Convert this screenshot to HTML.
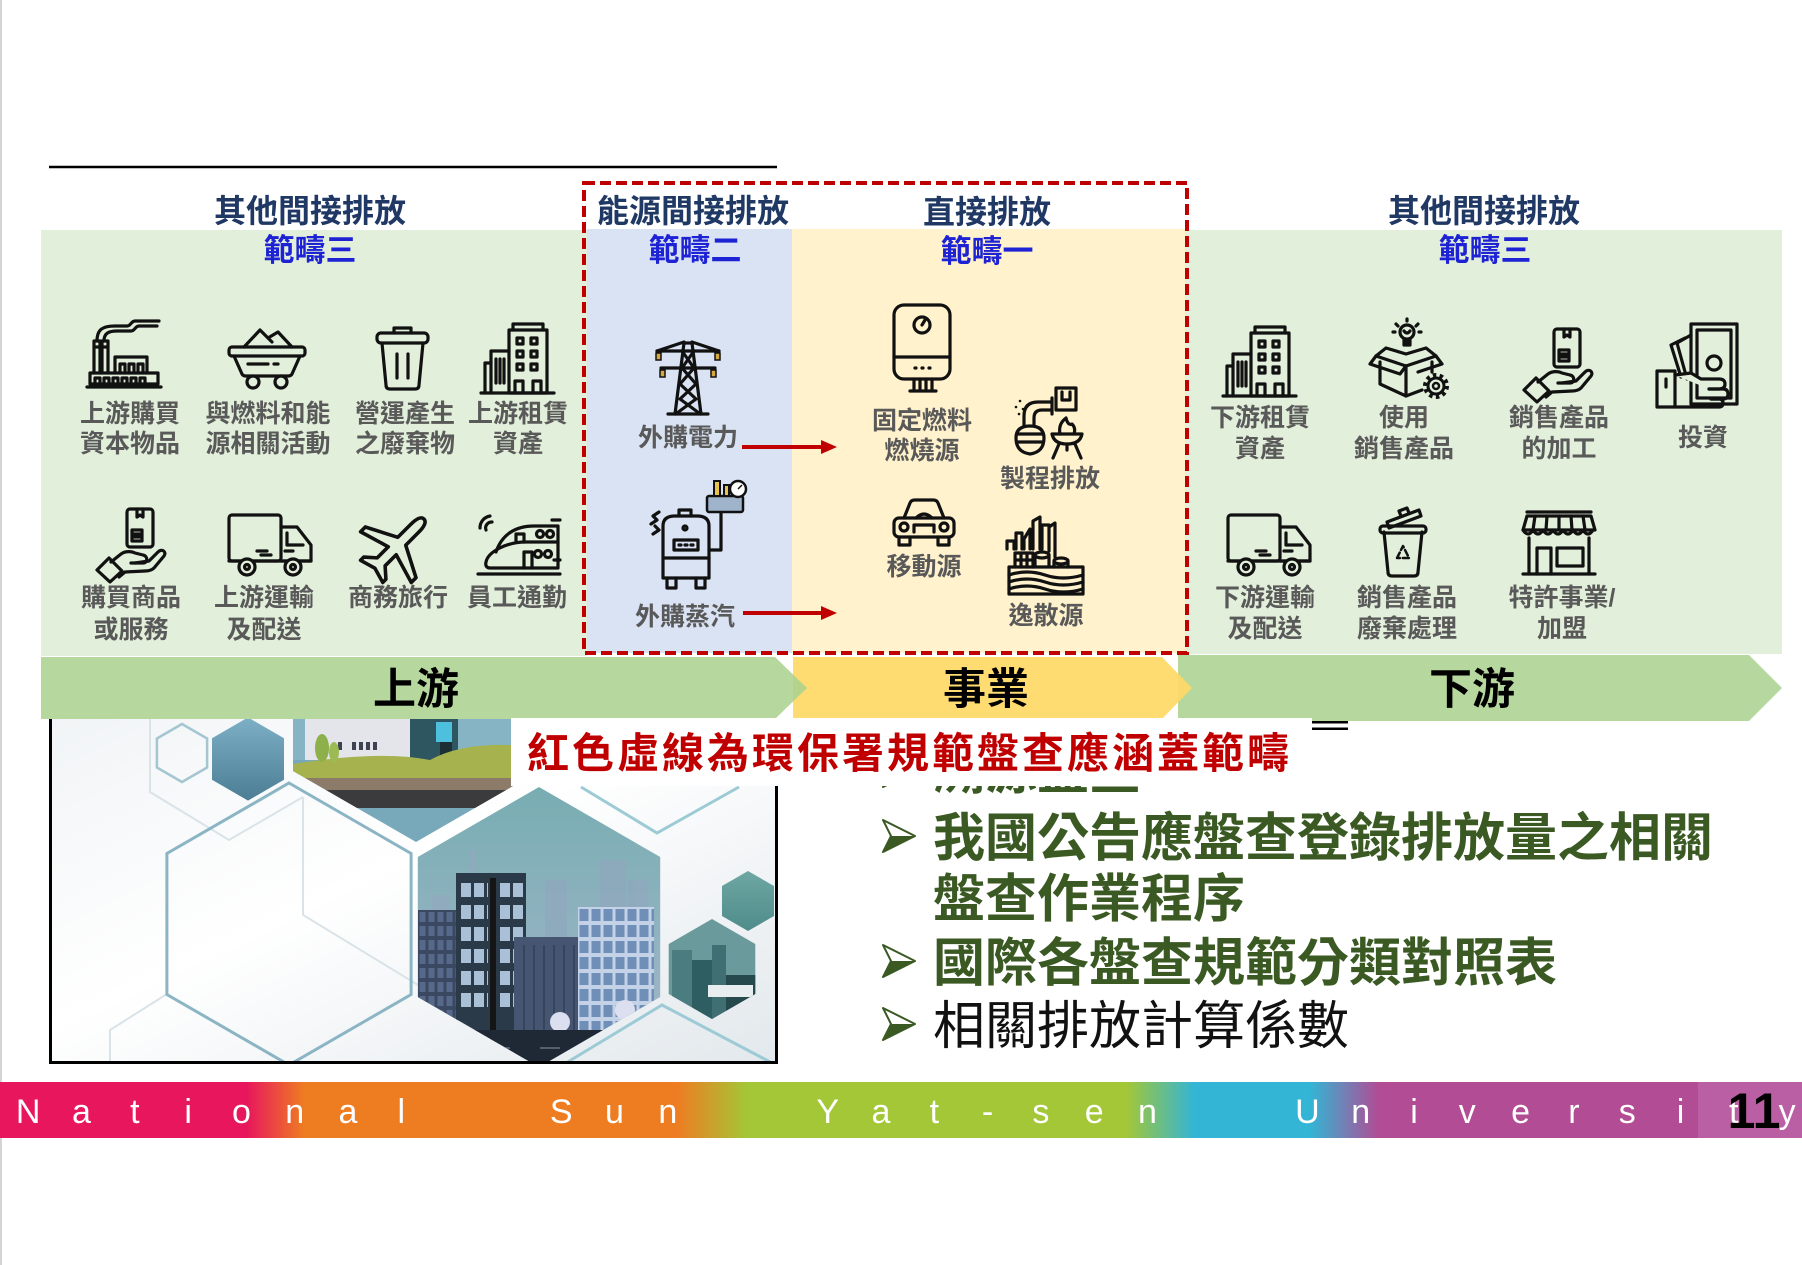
<!DOCTYPE html>
<html><head><meta charset="utf-8">
<style>
html,body{margin:0;padding:0;background:#fff;}
svg{display:block;}
.t{font-family:"Liberation Sans","Noto Sans CJK TC","Noto Sans CJK SC",sans-serif;}
.ic{fill:none;stroke:#111;stroke-width:3.2;stroke-linejoin:round;stroke-linecap:round;}
.lb{font-size:25px;font-weight:bold;fill:#595959;text-anchor:middle;}
.h1{font-size:32px;font-weight:bold;fill:#1f3864;text-anchor:middle;}
.h2{font-size:31px;font-weight:bold;fill:#1d22d4;text-anchor:middle;}
.bar{font-size:43px;font-weight:bold;fill:#000;text-anchor:middle;}
.bl{font-size:52px;font-weight:bold;fill:#3b5a23;}
.bn{font-size:52px;fill:#111;}
.ft{font-size:34px;fill:#fff;text-anchor:middle;font-family:"Liberation Sans",sans-serif;}
</style></head><body>
<svg class="t" width="1802" height="1265" viewBox="0 0 1802 1265" xmlns="http://www.w3.org/2000/svg">
<defs>
  <g id="bldg" class="ic">
    <path d="M0 70 H73"/>
    <rect x="28" y="7" width="38" height="63"/>
    <path d="M32 7 V1 H62 V7"/>
    <rect x="36" y="15" width="6" height="6"/><rect x="50" y="15" width="6" height="6"/>
    <rect x="36" y="28" width="6" height="6"/><rect x="50" y="28" width="6" height="6"/>
    <rect x="36" y="41" width="6" height="6"/><rect x="50" y="41" width="6" height="6"/>
    <path d="M10 70 V28 H28"/>
    <path d="M4 70 V40 H10"/>
    <path d="M15 36 V60 M19 36 V60 M23 36 V60"/>
    <path d="M34 70 V58 H42 V70 M52 70 V58 H60 V70"/>
  </g>
  <g id="handbox" class="ic">
    <rect x="32" y="1" width="26" height="38" rx="3"/>
    <path d="M42 1 V9 L45 7 L48 9 V1"/>
    <rect x="37" y="22" width="10" height="11"/>
    <path d="M39 26 H45 M39 29 H45"/>
    <path d="M16 54 L26 46 C30 43 36 43 40 45 L48 47 C53 48 53 55 48 55 L36 55"/>
    <path d="M40 55 L54 53 L63 44 C67 40 72 44 69 48 L59 60 C57 62 54 63 50 63 L30 64 L24 69"/>
    <path d="M2 62 L14 50 L27 63 L15 74 Z"/>
  </g>
  <g id="truck" class="ic">
    <rect x="2" y="2" width="52" height="46" rx="3"/>
    <path d="M54 14 H70 L84 32 V48 H54"/>
    <path d="M60 20 V32 H76"/>
    <path d="M2 48 H84"/>
    <path d="M58 38 H66 M30 38 H40 M34 42 H44"/>
    <circle cx="20" cy="54" r="8" fill="#e2efda"/><circle cx="20" cy="54" r="2.5"/>
    <circle cx="66" cy="54" r="8" fill="#e2efda"/><circle cx="66" cy="54" r="2.5"/>
  </g>
  <g id="arw">
    <path d="M0 0 L32 16 L0 32 L8 16 Z" fill="#ffffff" stroke="#3b5a23" stroke-width="2" stroke-linejoin="round"/>
    <path d="M8 16 L32 16 L0 32 Z" fill="#3b5a23"/>
  </g>
  <linearGradient id="ibg" x1="0" y1="0" x2="1" y2="1">
    <stop offset="0" stop-color="#f1f4f6"/><stop offset="0.45" stop-color="#ffffff"/><stop offset="1" stop-color="#e2e8ec"/>
  </linearGradient>
  <clipPath id="cimg"><rect x="50" y="719" width="727" height="343"/></clipPath>
  <clipPath id="cbig"><polygon points="539,787 660.2,857 660.2,997 539,1067 417.8,997 417.8,857"/></clipPath>
  <clipPath id="ctop"><polygon points="416,558 539,629 539,771 416,842 293,771 293,629"/></clipPath>
  <clipPath id="csm"><polygon points="712,919 755.3,944 755.3,994 712,1019 668.7,994 668.7,944"/></clipPath>
  <linearGradient id="sky" x1="0" y1="0" x2="0" y2="1">
    <stop offset="0" stop-color="#78adb2"/><stop offset="1" stop-color="#a6b7cd"/>
  </linearGradient>
  <linearGradient id="teal" x1="0" y1="0" x2="0" y2="1">
    <stop offset="0" stop-color="#7db0c6"/><stop offset="1" stop-color="#4b7d94"/>
  </linearGradient>
  <linearGradient id="teal2" x1="0" y1="0" x2="0" y2="1">
    <stop offset="0" stop-color="#6ea7a4"/><stop offset="1" stop-color="#4f8c8a"/>
  </linearGradient>
  <pattern id="winA" width="13" height="22" patternUnits="userSpaceOnUse" x="460" y="880">
    <rect x="1" y="3" width="10" height="14" fill="#a9c0d6"/>
  </pattern>
  <pattern id="gridB" width="12" height="16" patternUnits="userSpaceOnUse" x="578" y="907">
    <rect x="1.5" y="2" width="9" height="12" fill="#6f8fb8"/>
  </pattern>
  <pattern id="gridC" width="9" height="14" patternUnits="userSpaceOnUse" x="418" y="910">
    <rect x="1.5" y="2" width="6" height="10" fill="#56698a"/>
  </pattern>
  <linearGradient id="rb" x1="0" y1="0" x2="1802" y2="0" gradientUnits="userSpaceOnUse">
    <stop offset="0.137" stop-color="#e8175d"/><stop offset="0.169" stop-color="#ee7d22"/>
    <stop offset="0.376" stop-color="#ee7d22"/><stop offset="0.415" stop-color="#a3c737"/>
    <stop offset="0.625" stop-color="#a3c737"/><stop offset="0.663" stop-color="#33b5d5"/>
    <stop offset="0.727" stop-color="#33b5d5"/><stop offset="0.765" stop-color="#b14c95"/>
  </linearGradient>
</defs>

<rect x="0" y="0" width="1802" height="1265" fill="#ffffff"/>
<rect x="0" y="0" width="2" height="1265" fill="#d4d4d4"/>

<line x1="49" y1="167" x2="777" y2="167" stroke="#000" stroke-width="2.5"/>

<rect x="41" y="230" width="546" height="426" fill="#e2efda"/>
<rect x="1185" y="230" width="597" height="424" fill="#e2efda"/>
<rect x="587" y="229" width="205" height="424" fill="#dae3f3"/>
<rect x="792" y="229" width="393" height="424" fill="#fff2cc"/>

<text class="h1" x="310" y="222">其他間接排放</text>
<text class="h2" x="310" y="261">範疇三</text>
<text class="h1" x="693" y="222">能源間接排放</text>
<text class="h2" x="695" y="261">範疇二</text>
<text class="h1" x="987" y="223">直接排放</text>
<text class="h2" x="987" y="262">範疇一</text>
<text class="h1" x="1484" y="222">其他間接排放</text>
<text class="h2" x="1485" y="261">範疇三</text>

<g class="ic" transform="translate(87,317)">
  <path d="M10 24 C10 12 16 9 28 9 H40 C44 9 44 4 48 4 H72"/>
  <path d="M17 24 C17 16 22 14 30 14 H44 C48 14 48 9 52 9 H70"/>
  <path d="M7 56 V24 H13 V56 M15 56 V24 H21 V56"/>
  <path d="M8 30 H12 M16 30 H20"/>
  <path d="M28 56 V40 H60 V56"/>
  <path d="M33 56 V47 H38 V56 M42 56 V47 H47 V56 M51 56 V47 H56 V56"/>
  <rect x="3" y="56" width="68" height="11"/>
  <path d="M8 67 V61 H13 V67 M17 67 V61 H22 V67 M26 67 V61 H31 V67 M35 67 V61 H40 V67 M44 67 V61 H49 V67 M53 67 V61 H58 V67"/>
  <path d="M0 70 H74"/>
</g>
<g class="ic" transform="translate(228,328)">
  <path d="M16 19 L32 2 L44 14"/>
  <path d="M40 10 L50 4 L64 19"/>
  <rect x="1" y="19" width="76" height="9" rx="3"/>
  <path d="M6 28 L14 46 Q15 48 18 48 H60 Q63 48 64 46 L72 28"/>
  <path d="M20 36 H40 M46 36 H50"/>
  <circle cx="25" cy="54" r="6" fill="#e2efda"/><circle cx="53" cy="54" r="6" fill="#e2efda"/>
</g>
<g class="ic" transform="translate(375,326)">
  <path d="M19 7 V2 H36 V7"/>
  <rect x="2" y="7" width="51" height="10" rx="4"/>
  <path d="M7 17 L11 59 Q11 63 15 63 H40 Q44 63 44 59 L48 17"/>
  <path d="M22 28 V52 M33 28 V52"/>
</g>
<use href="#bldg" x="481" y="323"/>

<text class="lb" x="130" y="422">上游購買</text>
<text class="lb" x="130" y="452">資本物品</text>
<text class="lb" x="268" y="422">與燃料和能</text>
<text class="lb" x="268" y="452">源相關活動</text>
<text class="lb" x="405" y="422">營運產生</text>
<text class="lb" x="405" y="452">之廢棄物</text>
<text class="lb" x="518" y="422">上游租賃</text>
<text class="lb" x="518" y="452">資產</text>

<use href="#handbox" x="95" y="508"/>
<use href="#truck" x="227" y="513"/>
<g class="ic" transform="translate(397,546) rotate(45) scale(1.12)">
  <path d="M0 -34 C4 -34 5 -28 5 -22 L5 -6 L32 8 L32 14 L5 6 L5 20 L14 28 L14 32 L0 28 L-14 32 L-14 28 L-5 20 L-5 6 L-32 14 L-32 8 L-5 -6 L-5 -22 C-5 -28 -4 -34 0 -34 Z"/>
</g>
<g class="ic" transform="translate(476,512)">
  <path d="M2 62 H84"/>
  <path d="M14 56 H82 V30 H50 C30 30 12 40 10 50 C9 54 11 56 14 56 Z"/>
  <path d="M20 40 C26 22 40 14 58 14 H82 V30"/>
  <circle cx="64" cy="22" r="3.5"/><circle cx="74" cy="22" r="3.5"/>
  <circle cx="62" cy="42" r="3.5"/><circle cx="72" cy="42" r="3.5"/>
  <path d="M48 56 V40 H56 V56"/>
  <path d="M40 30 V22 H48 V30"/>
  <path d="M76 8 H84 M78 48 H84"/>
  <path d="M4 16 A12 12 0 0 1 14 4 M10 18 A6 6 0 0 1 16 10"/>
</g>

<text class="lb" x="131" y="606">購買商品</text>
<text class="lb" x="131" y="638">或服務</text>
<text class="lb" x="264" y="606">上游運輸</text>
<text class="lb" x="264" y="638">及配送</text>
<text class="lb" x="398" y="606">商務旅行</text>
<text class="lb" x="517" y="606">員工通勤</text>

<g class="ic" transform="translate(655,337)">
  <path d="M20 77 L29 6 H37 L46 77"/>
  <path d="M13 77 H53"/>
  <path d="M2 14 H64 M6 31 H60"/>
  <path d="M2 14 L29 5 M64 14 L37 5"/>
  <path d="M27 14 L39 31 L25 47 L41 62 L22 76 M39 14 L27 31 L41 47 L25 62 L44 76"/>
</g>
<g fill="#d6a840" stroke="#111" stroke-width="1.5">
  <rect x="656" y="353" width="5" height="7"/><rect x="715" y="353" width="5" height="7"/>
  <rect x="660" y="370" width="5" height="7"/><rect x="711" y="370" width="5" height="7"/>
</g>
<text class="lb" x="688" y="446">外購電力</text>
<path d="M742 447 H824" stroke="#c00000" stroke-width="4"/>
<polygon points="821,440 837,447 821,454" fill="#c00000"/>

<g class="ic" transform="translate(649,480)">
  <path d="M14 46 Q14 36 26 36 H48 Q60 36 60 46 V98 H14 Z"/>
  <path d="M30 36 V30 H42 V36"/>
  <rect x="25" y="60" width="24" height="10"/>
  <path d="M30 65 h2 M36 65 h2 M42 65 h2"/>
  <path d="M14 78 H60"/>
  <path d="M18 98 V108 H27 V98 M47 98 V108 H56 V98"/>
  <path d="M2 44 L8 40 L4 36 L10 32 M4 54 L10 50 L6 46"/>
  <path d="M60 70 H72 V32"/>
  <circle cx="36" cy="48" r="2"/>
</g>
<rect x="707" y="496" width="36" height="16" rx="2" fill="#9fb3cb" stroke="#111" stroke-width="2.5"/>
<rect x="714" y="481" width="6" height="15" fill="#e8c44a" stroke="#111" stroke-width="2"/>
<rect x="724" y="485" width="5" height="11" fill="#e8c44a" stroke="#111" stroke-width="2"/>
<circle cx="738" cy="489" r="8" fill="#fff" stroke="#111" stroke-width="2.5"/>
<path d="M738 489 L742 485" stroke="#111" stroke-width="1.5"/>
<text class="lb" x="685" y="625">外購蒸汽</text>
<path d="M743 613 H824" stroke="#c00000" stroke-width="4"/>
<polygon points="821,606 837,613 821,620" fill="#c00000"/>

<g class="ic" transform="translate(892,303)">
  <rect x="2" y="2" width="56" height="74" rx="10"/>
  <path d="M2 54 H58"/>
  <circle cx="30" cy="22" r="8"/><path d="M30 22 L33 17"/>
  <path d="M23 65 h1 M30 65 h1 M37 65 h1"/>
  <path d="M22 76 V88 M28 76 V88 M34 76 V88 M40 76 V88 M18 88 H44"/>
</g>
<text class="lb" x="922" y="429">固定燃料</text>
<text class="lb" x="922" y="459">燃燒源</text>

<g class="ic" transform="translate(1012,388)">
  <path d="M4 50 Q4 38 18 38 Q32 38 32 50 Q32 64 18 66 Q4 64 4 50 Z"/>
  <path d="M5 46 H31 M5 54 H31"/>
  <path d="M12 38 V28 Q12 14 26 14 H40"/>
  <path d="M22 38 V30 Q22 22 30 22 H40"/>
  <path d="M40 10 V26"/>
  <rect x="44" y="0" width="20" height="22"/>
  <path d="M50 4 V12 H58 V4"/>
  <path d="M40 46 H70 Q68 56 55 56 Q42 56 40 46 Z"/>
  <path d="M47 56 L41 70 M63 56 L69 70 M55 56 V62"/>
  <path d="M48 46 Q46 36 54 30 Q56 38 60 36 Q64 40 62 46"/>
</g>
<g fill="#111"><circle cx="1020" cy="401" r="1.3"/><circle cx="1016" cy="407" r="1.3"/><circle cx="1023" cy="409" r="1.3"/><circle cx="1019" cy="414" r="1.3"/></g>
<text class="lb" x="1050" y="487">製程排放</text>

<g class="ic" transform="translate(892,498)">
  <path d="M12 20 L18 5 Q19 2 23 2 H41 Q45 2 46 5 L52 20"/>
  <path d="M24 20 Q32 12 40 20"/>
  <rect x="2" y="20" width="60" height="19" rx="5"/>
  <circle cx="12" cy="29" r="4"/><circle cx="52" cy="29" r="4"/>
  <path d="M22 34 V27 H42 V34"/>
  <path d="M7 39 V47 H18 V39 M46 39 V47 H57 V39"/>
</g>
<text class="lb" x="924" y="575">移動源</text>

<g class="ic" transform="translate(1005,515)">
  <path d="M2 34 V26 H9 V34 M11 34 V18 H17 V34 M19 34 V24 L25 14 V34 M28 34 V6 L35 2 V34 M37 34 V10 H44 V36 M44 12 L50 8 V42"/>
  <path d="M10 52 V38 H28 V52 M10 45 H28 M16 38 V52 M22 38 V52"/>
  <ellipse cx="37" cy="40" rx="7" ry="3"/><path d="M30 40 V50 M44 40 V50"/>
  <ellipse cx="56" cy="46" rx="7" ry="3"/><path d="M49 46 V52 M63 46 V52"/>
  <rect x="4" y="52" width="74" height="27"/>
  <path d="M4 60 Q22 54 40 60 T78 60 M4 67 Q22 61 40 67 T78 67 M4 74 Q22 68 40 74 T78 74"/>
</g>
<text class="lb" x="1046" y="624">逸散源</text>

<use href="#bldg" x="1223" y="326"/>
<g class="ic" transform="translate(1370,318)">
  <circle cx="37" cy="14" r="7"/>
  <path d="M34 21 V27 H40 V21 M34 24 H40"/>
  <path d="M37 1 V3 M26 6 L28 8 M48 6 L46 8 M23 14 H25 M49 14 H51"/>
  <path d="M34 13 Q37 17 40 13"/>
  <path d="M6 38 L36 48 L66 38"/>
  <path d="M6 38 L16 30 L36 36 L56 30 L66 38"/>
  <path d="M6 38 L0 46 L30 56 L36 48 M66 38 L72 46 L48 54"/>
  <path d="M10 44 V66 L36 78 L52 72 M62 44 V54"/>
  <path d="M36 48 V78"/>
</g>
<circle cx="1436" cy="386" r="11" fill="none" stroke="#111" stroke-width="4" stroke-dasharray="3.5 3.4"/>
<circle cx="1436" cy="386" r="8" fill="#e2efda" stroke="#111" stroke-width="3"/>
<circle cx="1436" cy="386" r="3" fill="none" stroke="#111" stroke-width="2.5"/>
<use href="#handbox" x="1522" y="328"/>
<g class="ic" transform="translate(1655,323)">
  <rect x="36" y="1" width="46" height="80"/>
  <rect x="42" y="7" width="34" height="68"/>
  <path d="M36 12 L22 20 L32 56"/>
  <path d="M30 15 L16 22 L26 54"/>
  <circle cx="59" cy="40" r="7"/>
  <rect x="2" y="48" width="18" height="36" fill="#e2efda"/>
  <path d="M11 56 V64"/>
  <path d="M20 52 L36 50 L46 56 H64 Q70 56 70 61 Q70 66 64 66 H54" fill="#e2efda"/>
  <path d="M54 66 H68 Q73 66 73 71 Q73 76 68 76 H56"/>
  <path d="M56 76 H64 Q68 76 68 80 Q68 84 64 84 H20"/>
</g>
<text class="lb" x="1260" y="426">下游租賃</text>
<text class="lb" x="1260" y="457">資產</text>
<text class="lb" x="1404" y="426">使用</text>
<text class="lb" x="1404" y="457">銷售產品</text>
<text class="lb" x="1559" y="426">銷售產品</text>
<text class="lb" x="1559" y="457">的加工</text>
<text class="lb" x="1703" y="446">投資</text>

<use href="#truck" x="1226" y="513"/>
<g class="ic" transform="translate(1375,508)">
  <path d="M9 24 L13 64 Q13 68 17 68 H39 Q43 68 43 64 L47 24"/>
  <rect x="5" y="18" width="46" height="7" rx="3"/>
  <path d="M12 14 L44 2 L46 8 L14 20 Z"/>
  <path d="M26 8 L24 3 L32 0 L34 5"/>
  <path d="M22 50 L28 38 L34 50 Z" stroke-dasharray="6 3" stroke-width="2.5"/>
</g>
<g class="ic" transform="translate(1521,510)">
  <path d="M6 2 H70"/>
  <path d="M6 6 H70 L74 20 H2 Z"/>
  <path d="M2 20 Q7 28 12 20 Q17 28 22 20 Q27 28 32 20 Q37 28 42 20 Q47 28 52 20 Q57 28 62 20 Q67 28 72 20"/>
  <path d="M14 6 L12 20 M26 6 L25 20 M38 6 V20 M50 6 L51 20 M62 6 L64 20"/>
  <path d="M8 28 V64 M68 28 V64"/>
  <path d="M2 64 H74"/>
  <path d="M16 64 V38 H30 V64"/>
  <rect x="36" y="38" width="26" height="18"/>
</g>
<text class="lb" x="1265" y="606">下游運輸</text>
<text class="lb" x="1265" y="637">及配送</text>
<text class="lb" x="1407" y="606">銷售產品</text>
<text class="lb" x="1407" y="637">廢棄處理</text>
<text class="lb" x="1562" y="606">特許事業/</text>
<text class="lb" x="1562" y="637">加盟</text>

<rect x="584" y="183" width="603" height="470" fill="none" stroke="#c00000" stroke-width="4" stroke-dasharray="11 5"/>

<polygon points="1178,655 1749,655 1782,688 1749,721 1178,721" fill="#a9d18e" opacity="0.85"/>
<polygon points="793,657 1162,657 1192,688 1162,719 793,719" fill="#ffd966" opacity="0.92"/>
<polygon points="41,657 775,657 807,688 775,719 41,719" fill="#a9d18e" opacity="0.85"/>
<text class="bar" x="416" y="704">上游</text>
<text class="bar" x="986" y="704">事業</text>
<text class="bar" x="1472" y="704">下游</text>

<g clip-path="url(#cimg)">
  <rect x="50" y="719" width="727" height="344" fill="url(#ibg)"/>
  <g fill="none" stroke="#d9e3e8" stroke-width="2">
    <polyline points="150,719 150,792 229,840 303,797"/>
    <polyline points="303,797 303,915 418,985"/>
    <polyline points="167,994 110,1030 110,1063"/>
  </g>
  <polygon points="289,783 411.1,853.5 411.1,994.5 289,1065 166.9,994.5 166.9,853.5" fill="none" stroke="#8bb5c4" stroke-width="3"/>
  <polygon points="182,724 207.1,738.5 207.1,767.5 182,782 156.9,767.5 156.9,738.5" fill="none" stroke="#a3c6d1" stroke-width="2.5"/>
  <polygon points="248,717.4 284,738.2 284,779.8 248,800.6 212,779.8 212,738.2" fill="url(#teal)"/>
  <g clip-path="url(#ctop)">
    <rect x="290" y="555" width="252" height="290" fill="#78a9ba"/>
    <rect x="290" y="700" width="252" height="60" fill="#86b4c4"/>
    <rect x="305" y="718" width="105" height="42" fill="#e3e5ea"/>
    <g fill="#3c4250">
      <rect x="316" y="742" width="4" height="8"/><rect x="323" y="742" width="4" height="8"/>
      <rect x="338" y="742" width="4" height="8"/><rect x="352" y="742" width="4" height="8"/>
      <rect x="359" y="742" width="4" height="8"/><rect x="366" y="742" width="4" height="8"/><rect x="373" y="742" width="4" height="8"/>
    </g>
    <rect x="410" y="718" width="48" height="42" fill="#2d5661"/>
    <rect x="436" y="722" width="16" height="20" fill="#4cc0dc"/>
    <rect x="440" y="742" width="12" height="18" fill="#1b2f35"/>
    <path d="M293 764 Q380 750 430 760 Q470 738 542 748 V780 H293 Z" fill="#a6b24e"/>
    <ellipse cx="322" cy="748" rx="7" ry="14" fill="#8db04a"/>
    <ellipse cx="334" cy="752" rx="5" ry="10" fill="#9cbb55"/>
    <rect x="290" y="778" width="252" height="12" fill="#8c7b69"/>
    <rect x="290" y="790" width="252" height="18" fill="#3b3b3e"/>
  </g>
  <g clip-path="url(#cbig)">
    <rect x="417" y="787" width="245" height="280" fill="url(#sky)"/>
    <g fill="#8faabd" opacity="0.85">
      <rect x="432" y="895" width="18" height="170"/>
      <rect x="545" y="880" width="22" height="190"/>
      <rect x="600" y="860" width="26" height="200"/>
      <rect x="628" y="880" width="20" height="180"/>
      <rect x="470" y="850" width="6" height="30"/>
    </g>
    <rect x="418" y="910" width="40" height="160" fill="#3a4961"/>
    <rect x="418" y="910" width="40" height="160" fill="url(#gridC)"/>
    <rect x="456" y="873" width="70" height="195" fill="#2b3a49"/>
    <rect x="460" y="880" width="28" height="132" fill="url(#winA)"/>
    <rect x="498" y="880" width="26" height="132" fill="url(#winA)"/>
    <rect x="490" y="878" width="6" height="180" fill="#151515"/>
    <rect x="514" y="937" width="70" height="130" fill="#465572"/>
    <g stroke="#36445c" stroke-width="2"><path d="M524 945 V1030 M534 945 V1030 M544 945 V1030 M554 945 V1030 M564 945 V1030 M574 945 V1030"/></g>
    <rect x="578" y="907" width="76" height="160" fill="#c3d2e6"/>
    <rect x="578" y="907" width="76" height="160" fill="url(#gridB)"/>
    <circle cx="560" cy="1022" r="10" fill="#dcdff0"/>
    <circle cx="625" cy="1010" r="10" fill="#dcdff0"/>
    <rect x="417" y="1030" width="245" height="40" fill="#1f2835"/>
    <path d="M440 1048 H460 M490 1048 H510 M540 1048 H560 M590 1048 H610" stroke="#55606e" stroke-width="2"/>
  </g>
  <polygon points="748,871 774,886 774,916 748,931 722,916 722,886" fill="url(#teal2)"/>
  <g clip-path="url(#csm)">
    <rect x="668" y="918" width="90" height="102" fill="#6b9a9d"/>
    <rect x="672" y="950" width="20" height="70" fill="#4a7c80"/>
    <rect x="692" y="960" width="22" height="60" fill="#2f5e62"/>
    <rect x="712" y="945" width="14" height="75" fill="#3f6f72"/>
    <rect x="726" y="975" width="30" height="45" fill="#25494d"/>
    <rect x="708" y="985" width="45" height="12" fill="#e8eef0"/>
  </g>
  <g fill="none" stroke="#9ccbd6" stroke-width="3">
    <polyline points="581,787 657,833 739,787"/>
    <polyline points="566,1063 662,1005 772,1063"/>
  </g>
</g>
<g stroke="#000" stroke-width="3">
  <line x1="50.5" y1="719" x2="50.5" y2="1064"/>
  <line x1="49" y1="1062.5" x2="778" y2="1062.5"/>
  <line x1="776.5" y1="719" x2="776.5" y2="1064"/>
</g>

<use href="#arw" x="883" y="755"/>
<text class="bl" x="933" y="789">溯源盤查</text>

<rect x="511" y="718" width="801" height="68" fill="#ffffff"/>
<text x="527" y="768" font-size="42" font-weight="bold" fill="#c00000" textLength="762" lengthAdjust="spacing">紅色虛線為環保署規範盤查應涵蓋範疇</text>
<rect x="1312" y="721" width="36" height="2.5" fill="#000"/>
<rect x="1312" y="727.5" width="36" height="2.5" fill="#000"/>

<use href="#arw" x="883" y="820"/>
<text class="bl" x="933" y="856">我國公告應盤查登錄排放量之相關</text>
<text class="bl" x="933" y="917">盤查作業程序</text>
<use href="#arw" x="883" y="945"/>
<text class="bl" x="933" y="981">國際各盤查規範分類對照表</text>
<use href="#arw" x="883" y="1008"/>
<text class="bn" x="933" y="1044">相關排放計算係數</text>

<rect x="0" y="1082" width="1802" height="56" fill="url(#rb)"/>
<rect x="1698" y="1082" width="104" height="56" fill="#bb5fa4"/>
<text class="ft" y="1123" x="28.2 81.5 134.8 188.1 241.4 294.7 348 401.3 561.2 614.5 667.8 827.7 881 934.3 987.6 1040.9 1094.2 1147.5 1307.4 1360.7 1414 1467.3 1520.6 1573.9 1627.2 1680.5 1733.8 1787.1">NationalSunYat-senUniversity</text>
<text x="1754" y="1128" font-size="50" font-weight="bold" fill="#000" text-anchor="middle" font-family="Liberation Sans, sans-serif">11</text>
</svg>
</body></html>
